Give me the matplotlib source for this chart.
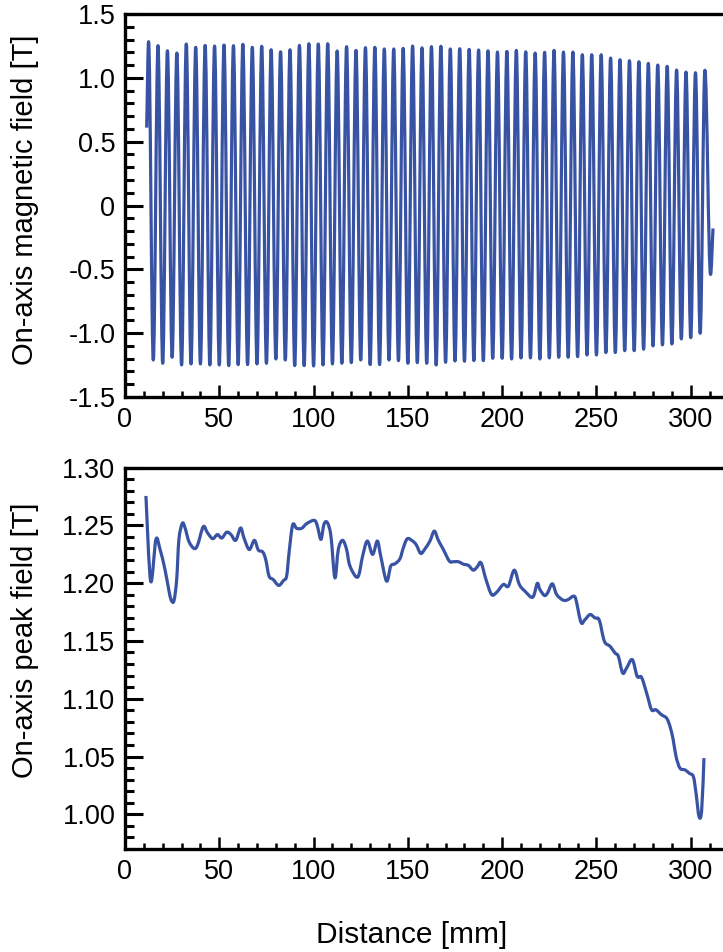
import numpy as np
import matplotlib
matplotlib.use('Agg')
from matplotlib import pyplot as plt
from matplotlib.path import Path
from matplotlib.patches import PathPatch
from matplotlib.ticker import MultipleLocator, FuncFormatter

plt.rcParams['font.family'] = ['Liberation Sans', 'DejaVu Sans']

# ---- top panel: on-axis field, read as the extrema of each oscillation ----
# field starts part-way up the first rise and ends part-way through the last one
start_pt = (11.5, 0.61)
end_pts = [(310.5, -0.54), (311.8, -0.18)]

# maxima, one every 5 mm starting at 12.5 mm
peak_x = np.arange(12.5, 308.0, 5.0)
peak_val = [1.283, 1.252, 1.212, 1.194, 1.265, 1.239, 1.254, 1.249, 1.257, 1.252,
            1.262, 1.239, 1.247, 1.220, 1.204, 1.220, 1.254, 1.267, 1.265, 1.267,
            1.210, 1.244, 1.215, 1.236, 1.239, 1.226, 1.226, 1.231, 1.249, 1.235,
            1.244, 1.247, 1.226, 1.228, 1.223, 1.218, 1.212, 1.202, 1.207, 1.215,
            1.204, 1.194, 1.200, 1.215, 1.202, 1.202, 1.181, 1.181, 1.181, 1.155,
            1.142, 1.134, 1.126, 1.113, 1.100, 1.090, 1.061, 1.045, 1.040, 1.059]

# minima, halfway between maxima
trough_x = np.arange(15.0, 306.0, 5.0)
trough_val = [-1.210, -1.236, -1.189, -1.249, -1.241, -1.241, -1.249, -1.249, -1.254, -1.246,
              -1.246, -1.241, -1.236, -1.202, -1.210, -1.254, -1.254, -1.257, -1.249, -1.241,
              -1.236, -1.231, -1.210, -1.246, -1.246, -1.210, -1.215, -1.236, -1.231, -1.236,
              -1.249, -1.228, -1.218, -1.220, -1.215, -1.215, -1.197, -1.197, -1.202, -1.194,
              -1.194, -1.202, -1.194, -1.189, -1.189, -1.184, -1.171, -1.171, -1.152, -1.152,
              -1.137, -1.137, -1.126, -1.100, -1.092, -1.085, -1.045, -1.035, -1.001]

# ---- bottom panel: on-axis peak field ----
dist = [11.1, 13.6, 16.4, 18.6, 21.2, 23.5, 24.7, 26.0, 27.4, 28.6, 30.4, 31.8, 33.9,
        36.6, 38.5, 41.5, 43.7, 46.5, 49.0, 51.3, 53.9, 56.2, 58.7, 61.3, 63.1, 65.9,
        68.6, 70.7, 73.0, 74.6, 76.4, 78.6, 81.5, 84.0, 85.7, 87.0, 88.9, 91.0, 93.7,
        96.3, 100.4, 102.0, 103.9, 105.5, 107.3, 109.2, 111.3, 113.1, 115.4, 117.5,
        119.3, 123.4, 126.0, 128.5, 131.3, 133.8, 135.6, 138.7, 140.9, 143.2, 145.8,
        147.6, 149.7, 152.5, 154.5, 156.8, 159.1, 161.7, 164.0, 166.1, 168.8, 172.0,
        174.1, 176.8, 179.4, 182.1, 184.7, 186.8, 188.8, 191.4, 194.4, 197.1, 200.6,
        203.3, 206.4, 209.1, 212.1, 216.2, 218.6, 220.0, 222.4, 224.1, 226.6, 228.9,
        232.4, 235.0, 237.7, 239.1, 241.8, 243.9, 246.6, 249.2, 251.5, 254.2, 257.2,
        259.8, 261.6, 263.9, 266.0, 269.0, 271.6, 273.9, 276.6, 279.2, 281.5, 284.5,
        287.2, 289.0, 290.7, 292.2, 294.3, 297.0, 299.2, 301.4, 302.8, 304.4, 305.8,
        307.0]
peak_field = [1.2754, 1.2017, 1.2378, 1.2290, 1.2118, 1.1916, 1.1846, 1.1850, 1.2030,
              1.2380, 1.2517, 1.2480, 1.2360, 1.2300, 1.2330, 1.2488, 1.2436, 1.2384,
              1.2420, 1.2390, 1.2440, 1.2420, 1.2370, 1.2477, 1.2390, 1.2290, 1.2370,
              1.2286, 1.2270, 1.2205, 1.2060, 1.2031, 1.1980, 1.2022, 1.2060, 1.2263,
              1.2503, 1.2474, 1.2474, 1.2514, 1.2543, 1.2494, 1.2378, 1.2509, 1.2523,
              1.2407, 1.2046, 1.2291, 1.2370, 1.2291, 1.2147, 1.2052, 1.2234, 1.2364,
              1.2248, 1.2364, 1.2234, 1.2017, 1.2147, 1.2167, 1.2211, 1.2306, 1.2384,
              1.2364, 1.2330, 1.2257, 1.2297, 1.2364, 1.2450, 1.2372, 1.2291, 1.2190,
              1.2185, 1.2185, 1.2164, 1.2153, 1.2112, 1.2141, 1.2176, 1.2032, 1.1901,
              1.1921, 1.1988, 1.1974, 1.2112, 1.1988, 1.1930, 1.1878, 1.1997, 1.1945,
              1.1893, 1.1916, 1.1994, 1.1901, 1.1852, 1.1858, 1.1887, 1.1858, 1.1661,
              1.1684, 1.1728, 1.1699, 1.1679, 1.1497, 1.1454, 1.1396, 1.1367, 1.1222,
              1.1266, 1.1338, 1.1193, 1.1185, 1.1049, 1.0905, 1.0905, 1.0861, 1.0832,
              1.0760, 1.0644, 1.0500, 1.0399, 1.0384, 1.0355, 1.0326, 1.0182, 0.9980,
              1.0038, 1.0486]

blue = '#3953a4'
W, H = 723, 952
fig = plt.figure(figsize=(W / 100, H / 100), dpi=100)

ax1 = fig.add_axes([125 / W, 1 - 397 / H, 1 - 125 / W, 383 / H])
ax2 = fig.add_axes([125 / W, 1 - 849 / H, 1 - 125 / W, 381.5 / H])

# sequence of points for the oscillation (start, alternating max/min, end)
pts = [start_pt]
is_ext = [False]
for i in range(len(peak_val)):
    pts.append((peak_x[i], peak_val[i]))
    is_ext.append(True)
    if i < len(trough_val):
        pts.append((trough_x[i], trough_val[i]))
        is_ext.append(True)
pts.append(end_pts[0])
is_ext.append(True)
pts.append(end_pts[1])
is_ext.append(False)

# smooth curve through the extrema (flat tangent at each peak)
c = 0.36
verts = [pts[0]]
codes = [Path.MOVETO]
for k in range(1, len(pts)):
    x0, y0 = pts[k - 1]
    x1, y1 = pts[k]
    dx, dy = x1 - x0, y1 - y0
    c1 = (x0 + c * dx, y0) if is_ext[k - 1] else (x0 + dx / 3, y0 + dy / 3)
    c2 = (x1 - c * dx, y1) if is_ext[k] else (x1 - dx / 3, y1 - dy / 3)
    verts += [c1, c2, (x1, y1)]
    codes += [Path.CURVE4] * 3
ax1.add_patch(PathPatch(Path(verts, codes), fill=False, edgecolor=blue, lw=2.3,
                        joinstyle='round', transform=ax1.transData))

# bottom curve drawn as a smooth (Catmull-Rom style) bezier through the read points
p = list(zip(dist, peak_field))
verts2 = [p[0]]
codes2 = [Path.MOVETO]
for k in range(1, len(p)):
    pa = p[k - 2] if k >= 2 else p[k - 1]
    p0 = p[k - 1]
    p1 = p[k]
    pb = p[k + 1] if k + 1 < len(p) else p[k]
    c1 = (p0[0] + (p1[0] - pa[0]) / 6, p0[1] + (p1[1] - pa[1]) / 6)
    c2 = (p1[0] - (pb[0] - p0[0]) / 6, p1[1] - (pb[1] - p0[1]) / 6)
    verts2 += [c1, c2, p1]
    codes2 += [Path.CURVE4] * 3
ax2.add_patch(PathPatch(Path(verts2, codes2), fill=False, edgecolor=blue, lw=2.3,
                        joinstyle='round', transform=ax2.transData))

ax1.set_xlim(0, 317.1)
ax1.set_ylim(-1.5, 1.5)
ax2.set_xlim(0, 317.1)
ax2.set_ylim(0.97, 1.30)

ax1.yaxis.set_major_locator(MultipleLocator(0.5))
ax1.yaxis.set_minor_locator(MultipleLocator(0.1))
ax1.yaxis.set_major_formatter(FuncFormatter(lambda v, p: '0' if abs(v) < 1e-9 else '%.1f' % v))
ax2.yaxis.set_major_locator(MultipleLocator(0.05))
ax2.yaxis.set_minor_locator(MultipleLocator(0.01))
ax2.yaxis.set_major_formatter(FuncFormatter(lambda v, p: '%.2f' % v))

for ax in [ax1, ax2]:
    ax.xaxis.set_major_locator(MultipleLocator(50))
    ax.xaxis.set_minor_locator(MultipleLocator(10))
    ax.xaxis.set_major_formatter(FuncFormatter(lambda v, p: '%d' % v))
    ax.spines['right'].set_visible(False)
    for s in ['left', 'bottom', 'top']:
        ax.spines[s].set_linewidth(2.4)
    ax.tick_params(axis='y', which='major', direction='in', length=13, width=2.2,
                   labelsize=19.5, pad=7)
    ax.tick_params(axis='y', which='minor', direction='in', length=6.5, width=2.2)
    ax.tick_params(axis='x', which='major', direction='in', length=8.5, width=1.8,
                   labelsize=19.5, pad=7)
    ax.tick_params(axis='x', which='minor', direction='in', length=4, width=1.8)

fig.text(25 / W, 1 - 200 / H, 'On-axis magnetic field [T]', rotation=90,
         ha='center', va='center', fontsize=21)
fig.text(25 / W, 1 - 640 / H, 'On-axis peak field [T]', rotation=90,
         ha='center', va='center', fontsize=21)
fig.text(412 / W, 1 - 935 / H, 'Distance [mm]', ha='center', va='center', fontsize=21.5)

fig.savefig('out.png', dpi=100)
